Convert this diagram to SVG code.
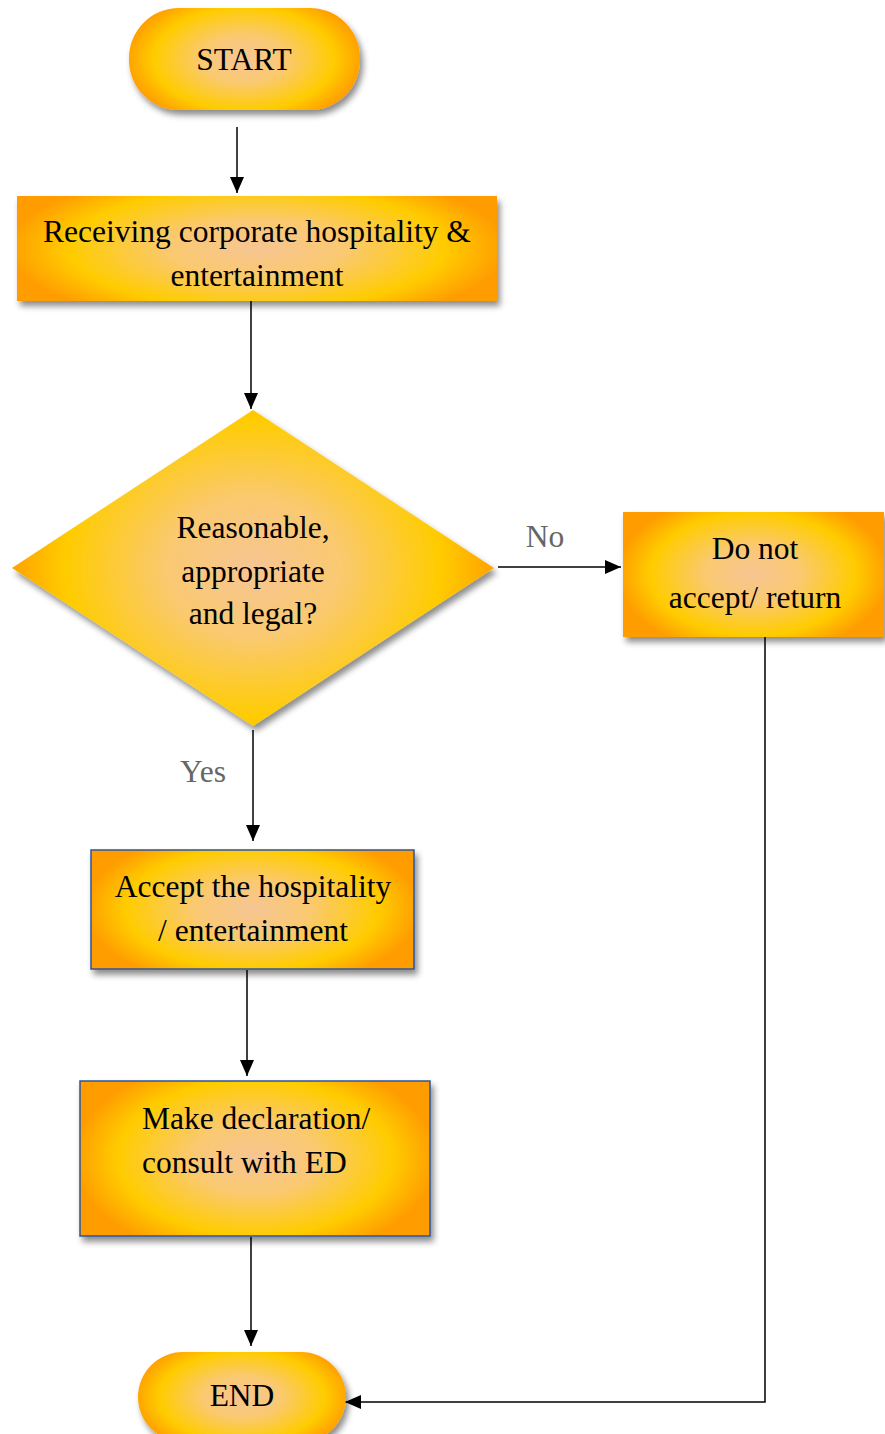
<svg xmlns="http://www.w3.org/2000/svg" width="885" height="1434" viewBox="0 0 885 1434">
<defs>
<radialGradient id="gb">
<stop offset="0" stop-color="#F6C593"/>
<stop offset="0.35" stop-color="#FAC970"/>
<stop offset="0.75" stop-color="#FFCC00"/>
<stop offset="1" stop-color="#FF9C00"/>
</radialGradient>
<radialGradient id="g1" href="#gb" gradientUnits="userSpaceOnUse" cx="244" cy="59" r="120" gradientTransform="translate(244,59) scale(1,0.57) translate(-244,-59)"/>
<radialGradient id="g2" href="#gb" gradientUnits="userSpaceOnUse" cx="257" cy="248" r="250" gradientTransform="translate(257,248) scale(1,0.32) translate(-257,-248)"/>
<radialGradient id="g3" href="#gb" gradientUnits="userSpaceOnUse" cx="253" cy="568" r="250" gradientTransform="translate(253,568) scale(1,0.8) translate(-253,-568)"/>
<radialGradient id="g4" href="#gb" gradientUnits="userSpaceOnUse" cx="753" cy="574" r="136" gradientTransform="translate(753,574) scale(1,0.6) translate(-753,-574)"/>
<radialGradient id="g5" href="#gb" gradientUnits="userSpaceOnUse" cx="252" cy="909" r="168" gradientTransform="translate(252,909) scale(1,0.48) translate(-252,-909)"/>
<radialGradient id="g6" href="#gb" gradientUnits="userSpaceOnUse" cx="255" cy="1158" r="182" gradientTransform="translate(255,1158) scale(1,0.57) translate(-255,-1158)"/>
<radialGradient id="g7" href="#gb" gradientUnits="userSpaceOnUse" cx="242" cy="1397" r="110" gradientTransform="translate(242,1397) scale(1,0.55) translate(-242,-1397)"/>
<filter id="sh" x="-10%" y="-10%" width="125%" height="130%">
<feDropShadow dx="3" dy="5" stdDeviation="3" flood-color="#000" flood-opacity="0.45"/>
</filter>
<marker id="ah2" markerWidth="16" markerHeight="14" refX="16" refY="7" orient="auto" markerUnits="userSpaceOnUse" viewBox="0 0 16 14">
<path d="M0,0 L16,7 L0,14 z" fill="#000"/>
</marker>
</defs>
<style>
text{font-family:"Liberation Serif","Times New Roman",serif;font-size:31.5px;fill:#000;text-anchor:middle}
.lbl{fill:#666}
.shape{filter:url(#sh)}
.blue{stroke:#2F5597;stroke-width:1.5}
.conn{stroke:#000;stroke-width:1.5;fill:none;marker-end:url(#ah2)}
</style>
<g id="connectors">
<line class="conn" x1="237" y1="127" x2="237" y2="193"/>
<line class="conn" x1="251" y1="301" x2="251" y2="409"/>
<line class="conn" x1="498" y1="567" x2="621" y2="567"/>
<line class="conn" x1="253" y1="730" x2="253" y2="841"/>
<line class="conn" x1="247" y1="970" x2="247" y2="1076"/>
<line class="conn" x1="251" y1="1237" x2="251" y2="1346"/>
<polyline class="conn" points="765,637 765,1402 345,1402"/>
<text class="lbl" x="545" y="547">No</text>
<text class="lbl" x="203" y="782">Yes</text>
</g>
<g id="start">
<rect class="shape" fill="url(#g1)" x="129" y="8" width="231" height="102" rx="50" ry="50"/>
<text x="244" y="70">START</text>
</g>
<g id="receiving">
<rect class="shape" fill="url(#g2)" x="17" y="196" width="480" height="105"/>
<text x="257" y="242">Receiving corporate hospitality &amp;</text>
<text x="257" y="286">entertainment</text>
</g>
<g id="decision">
<polygon class="shape" fill="url(#g3)" points="253,410 494,568 253,726 12,568"/>
<text x="253" y="538">Reasonable,</text>
<text x="253" y="582">appropriate</text>
<text x="253" y="624">and legal?</text>
</g>
<g id="donot">
<rect class="shape" fill="url(#g4)" x="623" y="512" width="261" height="125"/>
<text x="755" y="559">Do not</text>
<text x="755" y="608">accept/ return</text>
</g>
<g id="accept">
<rect class="shape blue" fill="url(#g5)" x="91" y="850" width="323" height="119"/>
<text x="253" y="897">Accept the hospitality</text>
<text x="253" y="941">/ entertainment</text>
</g>
<g id="declare">
<rect class="shape blue" fill="url(#g6)" x="80" y="1081" width="350" height="155"/>
<text x="142" y="1129" style="text-anchor:start">Make declaration/</text>
<text x="142" y="1173" style="text-anchor:start">consult with ED</text>
</g>
<g id="end">
<rect class="shape" fill="url(#g7)" x="138" y="1352" width="208" height="90" rx="45" ry="45"/>
<text x="242" y="1406">END</text>
</g>
</svg>
